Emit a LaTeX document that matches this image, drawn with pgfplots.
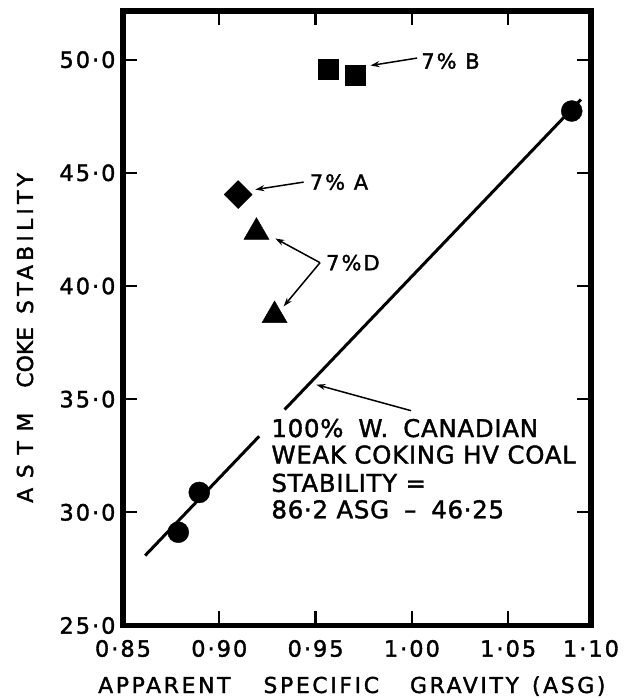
\documentclass[border=0pt]{standalone}
\usepackage{fontspec}
\setmainfont{DejaVu Sans}[FakeBold=1.6, LetterSpace=3]
\newfontfamily\tickfont{DejaVu Sans}[FakeBold=1.6, LetterSpace=9]
\newfontfamily\labfont{DejaVu Sans}[FakeBold=1.6, LetterSpace=12]
\newfontfamily\notefont{DejaVu Sans}[FakeBold=1.6, LetterSpace=10]
\newfontfamily\plainfont{DejaVu Sans}[FakeBold=1.6]
\newfontfamily\wideA{DejaVu Sans}[FakeBold=1.6, LetterSpace=44]
\newfontfamily\wideB{DejaVu Sans}[FakeBold=1.6, LetterSpace=19]
\usepackage{pgfplots}
\pgfplotsset{compat=1.18}
\usetikzlibrary{arrows.meta,calc}

\tikzset{note arrow/.style={-{Stealth[length=9bp,width=6bp]}, line width=1.5bp}}

\begin{document}
\begin{tikzpicture}
\begin{axis}[
    name=ax,
    scale only axis,
    width=468bp, height=614.5bp,
    xmin=0.85, xmax=1.093,
    ymin=25, ymax=52.15,
    xtick={0.85,0.90,0.95,1.00,1.05,1.093},
    xticklabels={0·85,0·90,0·95,1·00,1·05,1·10},
    ytick={25,30,35,40,45,50},
    yticklabels={25·0,30·0,35·0,40·0,45·0,50·0},
    tick align=inside,
    major tick length=14bp,
    axis line style={line width=5.5bp},
    every tick/.style={black, line width=2.2bp},
    tick label style={font=\tickfont\fontsize{22.5}{24}\selectfont},
    xticklabel style={yshift=-11bp},
    yticklabel style={xshift=-4bp},
    clip=false,
]
% 7% B
\addplot[only marks, mark=square*, mark size=10bp, black]
    coordinates {(0.9565,49.6)(0.9705,49.3)};
% 7% A
\addplot[only marks, mark=square*, mark size=9.9bp, black, mark options={rotate=45}]
    coordinates {(0.9098,44.04)};
% 7% D
\addplot[only marks, mark=triangle*, mark size=14.5bp, black]
    coordinates {(0.9193,42.38)(0.9287,38.7)};
% 100% W. Canadian
\addplot[only marks, mark=*, mark size=10.5bp, black]
    coordinates {(0.8787,29.12)(0.8896,30.88)(1.083,47.73)};
% fitted line, broken where the note starts
\addplot[no marks, black, line width=3bp] coordinates {(0.8615,28.09)(0.9207,33.36)};
\addplot[no marks, black, line width=3bp] coordinates {(0.9339,34.54)(1.0878,48.24)};

\draw[note arrow] (axis cs:1.0027,50.07) -- (axis cs:0.9785,49.74);
\draw[note arrow] (axis cs:0.9438,44.59) -- (axis cs:0.9187,44.26);
\draw[note arrow] (axis cs:0.9523,41.03) -- (axis cs:0.9291,42.10);
\draw[note arrow] (axis cs:0.9523,41.03) -- (axis cs:0.9334,39.10);
\draw[note arrow] (axis cs:0.9996,34.49) -- (axis cs:0.9504,35.64);

\node[anchor=west, inner sep=0, font=\notefont\fontsize{21}{24}\selectfont]
    at (axis cs:1.0048,49.94) {7\% B};
\node[anchor=west, inner sep=0, font=\notefont\fontsize{21}{24}\selectfont]
    at (axis cs:0.9469,44.59) {7\% A};
\node[anchor=west, inner sep=0, font=\notefont\fontsize{21}{24}\selectfont]
    at (axis cs:0.9554,41.03) {7\%D};

\node[anchor=west, inner sep=0, font=\fontsize{24.5}{28}\selectfont]
    at (axis cs:0.927,33.72) {100\%\hspace{15bp}W.\hspace{15bp}CANADIAN};
\node[anchor=west, inner sep=0, font=\fontsize{24.5}{28}\selectfont]
    at (axis cs:0.927,32.55) {WEAK COKING HV COAL};
\node[anchor=west, inner sep=0, font=\fontsize{24.5}{28}\selectfont]
    at (axis cs:0.927,31.30) {STABILITY =};
\node[anchor=west, inner sep=0, font=\fontsize{24.5}{28}\selectfont]
    at (axis cs:0.927,30.13) {86·2 ASG\hspace{15bp}–\hspace{15bp}46·25};
\end{axis}

\node[anchor=base, font=\labfont\fontsize{22}{24}\selectfont]
    at ($(ax.south west)!0.489!(ax.south east)+(0,-67.5bp)$)
    {APPARENT\hspace{33bp}SPECIFIC\hspace{31bp}GRAVITY\hspace{13bp}(ASG)};
\node[anchor=base, rotate=90, font=\plainfont\fontsize{22}{24}\selectfont]
    at ($(ax.south west)!0.468!(ax.north west)+(-90bp,0)$)
    {{\wideA ASTM}\hspace{25bp}COKE\hspace{13bp}{\wideB STABILITY}};

\pgfresetboundingbox
\path ($(ax.south west)+(-123bp,-72.5bp)$) rectangle ($(ax.north east)+(37bp,11bp)$);
\end{tikzpicture}
\end{document}
